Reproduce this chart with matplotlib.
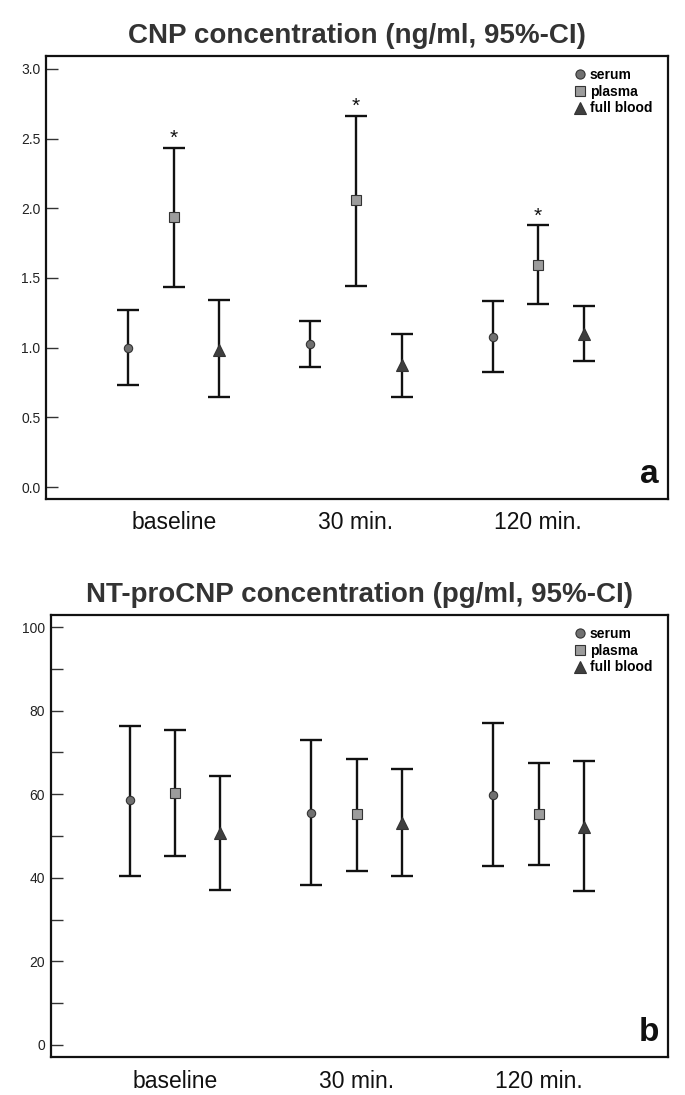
import matplotlib
matplotlib.use("Agg")
import matplotlib.pyplot as plt
from matplotlib.lines import Line2D
import numpy as np

plt.rcParams['font.family'] = ['Liberation Sans', 'DejaVu Sans']

categories = ["baseline", "30 min.", "120 min."]
series = ["serum", "plasma", "full blood"]

# Panel a: CNP (ng/ml)
cnp_mean = {"serum": [1.00, 1.027, 1.08], "plasma": [1.94, 2.06, 1.595], "full blood": [0.98, 0.875, 1.10]}
cnp_low = {"serum": [0.73, 0.864, 0.825], "plasma": [1.438, 1.445, 1.313], "full blood": [0.646, 0.648, 0.907]}
cnp_high = {"serum": [1.27, 1.19, 1.335], "plasma": [2.435, 2.666, 1.880], "full blood": [1.342, 1.096, 1.299]}
cnp_sig = {"plasma": [True, True, True]}

# Panel b: NT-proCNP (pg/ml)
nt_mean = {"serum": [58.5, 55.6, 59.9], "plasma": [60.3, 55.2, 55.3], "full blood": [50.6, 53.0, 52.2]}
nt_low = {"serum": [40.5, 38.3, 42.8], "plasma": [45.1, 41.7, 43.1], "full blood": [37.1, 40.4, 36.8]}
nt_high = {"serum": [76.4, 73.0, 77.1], "plasma": [75.4, 68.4, 67.5], "full blood": [64.3, 66.0, 67.9]}

offsets = {"serum": -0.25, "plasma": 0.0, "full blood": 0.25}
styles = {
    "serum": dict(marker="o", ms=6.0, mfc="#707070"),
    "plasma": dict(marker="s", ms=6.8, mfc="#9c9c9c"),
    "full blood": dict(marker="^", ms=8.0, mfc="#3f3f3f"),
}

fig = plt.figure(figsize=(6.85, 10.95), dpi=100)
ax1 = fig.add_axes([46/685, 1-499/1095, (668-46)/685, (499-56)/1095])
ax2 = fig.add_axes([50.7/685, 1-1057/1095, (668-50.7)/685, (1057-615)/1095])


def draw(ax, mean, low, high, ylim, yticks, minor, title, letter, sig=None, sig_off=0.0):
    x0 = np.arange(len(categories))
    for s in series:
        xs = x0 + offsets[s]
        m = np.array(mean[s]); lo = np.array(low[s]); hi = np.array(high[s])
        ax.errorbar(xs, m, yerr=[m - lo, hi - m], fmt="none", ecolor="#111111",
                    elinewidth=1.7, capsize=8, capthick=1.7, zorder=2)
        st = styles[s]
        ax.plot(xs, m, linestyle="none", marker=st["marker"], ms=st["ms"],
                mfc=st["mfc"], mec="#333333", mew=0.8, zorder=3)
        if sig and s in sig:
            for xi, hv, flag in zip(xs, hi, sig[s]):
                if flag:
                    ax.text(xi, hv + sig_off, "*", ha="center", va="center",
                            fontsize=15, color="#111111")
    ax.set_ylim(*ylim)
    ax.set_yticks(yticks)
    if minor is not None:
        ax.set_yticks(minor, minor=True)
    ax.set_xticks(x0)
    ax.set_xticklabels(categories, fontsize=16.5, color="#111111")
    ax.tick_params(axis="x", length=0, pad=9)
    ax.tick_params(axis="y", which="both", direction="in", length=8.5, width=1.0,
                   color="#333333", labelsize=10, labelcolor="#222222", pad=4)
    for sp in ax.spines.values():
        sp.set_linewidth(1.6)
        sp.set_color("#111111")
    ax.set_title(title, fontsize=20, fontweight="bold", color="#333333", pad=9)
    ax.text(0.985, 0.02, letter, transform=ax.transAxes, ha="right", va="bottom",
            fontsize=24, fontweight="bold", color="#111111")
    handles = [Line2D([], [], linestyle="none", marker=styles[s]["marker"],
                      ms=styles[s]["ms"] * 1.1, mfc=styles[s]["mfc"], mec="#333333", mew=0.8)
               for s in series]
    ax.legend(handles, series, loc="upper right", frameon=False,
              prop=dict(size=10, weight="bold"), handlelength=0.8, handletextpad=0.3,
              labelspacing=0.2, borderaxespad=0.3, bbox_to_anchor=(0.99, 0.995))


draw(ax1, cnp_mean, cnp_low, cnp_high, (-0.086, 3.093), [0, 0.5, 1.0, 1.5, 2.0, 2.5, 3.0], None,
     "CNP concentration (ng/ml, 95%-CI)", "a", sig=cnp_sig, sig_off=0.065)
ax1.set_yticklabels(["0.0", "0.5", "1.0", "1.5", "2.0", "2.5", "3.0"])
ax1.set_xlim(-0.703, 2.714)

draw(ax2, nt_mean, nt_low, nt_high, (-2.9, 102.9), [0, 20, 40, 60, 80, 100], [10, 30, 50, 70, 90],
     "NT-proCNP concentration (pg/ml, 95%-CI)", "b")
ax2.set_xlim(-0.683, 2.709)

fig.savefig("out.png", dpi=100)
